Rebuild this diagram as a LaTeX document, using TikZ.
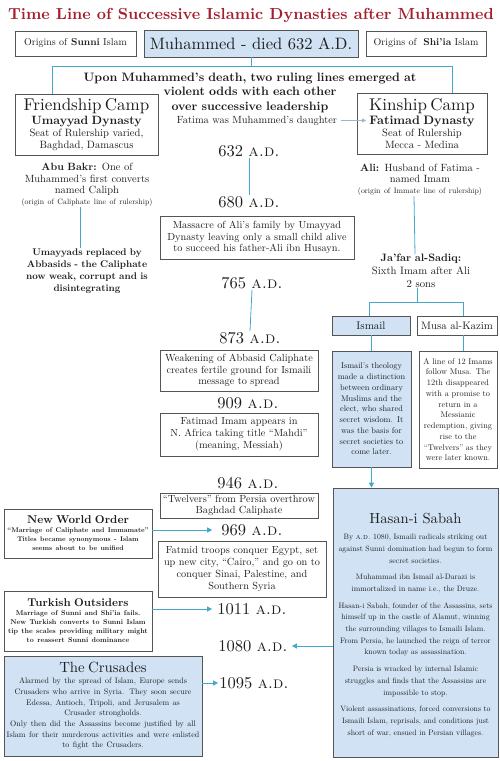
\documentclass[tikz,border=0pt]{standalone}
\usepackage{fontspec}
\setmainfont{lmroman10-regular.otf}[BoldFont=lmroman10-bold.otf, ItalicFont=lmroman10-italic.otf, SmallCapsFont=lmromancaps10-regular.otf]
\usetikzlibrary{arrows.meta}
\definecolor{titlered}{RGB}{163,31,46}
\definecolor{paleblue}{RGB}{208,226,244}
\definecolor{edgegray}{RGB}{85,85,85}
\definecolor{linkblue}{RGB}{66,168,206}
\definecolor{softblue}{RGB}{150,185,205}
\definecolor{inkblack}{RGB}{30,30,30}
\newcommand{\fsz}[2]{\fontsize{#1}{#2}\selectfont}
\newcommand{\anno}{\textsc{a.d.}}

\begin{document}
\begin{tikzpicture}[x=1pt,y=-1pt,
  main_box/.style={draw=edgegray, line width=0.7pt, fill=white, inner sep=0pt, align=center, text=inkblack, font=\fsz{10.3}{11.8}},
  blue_box/.style={main_box, fill=paleblue},
  note_text/.style={align=center, inner sep=0pt, text=inkblack, font=\fsz{10.5}{11.5}},
  date_text/.style={inner sep=1pt, text=inkblack, font=\fsz{16.5}{18}},
  link_line/.style={draw=linkblue, line width=0.8pt},
  link_arrow/.style={link_line, -{Triangle[length=5pt,width=5pt]}}]

    \useasboundingbox (0,0) rectangle (500,761);

    \node[text=titlered, inner sep=0pt, font=\bfseries\fsz{16}{18}] (0) at (251,15) {Time Line of Successive Islamic Dynasties after Muhammed};

    \node[main_box, minimum width=121, minimum height=25, font=\fsz{10}{11}] (1) at (75.5,43.5) {Origins of \textbf{Sunni} Islam};
    \node[blue_box, minimum width=214, minimum height=27, font=\fsz{16.5}{18}] (2) at (251,43.5) {Muhammed - died 632 A.D.};
    \node[main_box, minimum width=120, minimum height=25, font=\fsz{10}{11}] (3) at (426,43.5) {Origins of\ \ \textbf{Shi’ia} Islam};

    \node[note_text, text width=340pt, font=\bfseries\fsz{12.2}{14.5}] (4) at (250,92.5) {Upon Muhammed’s death, two ruling lines emerged at\\violent odds with each other\\over successive leadership};
    \node[note_text, font=\fsz{10.4}{11}] (5) at (257,120.5) {Fatima was Muhammed’s daughter};

    \node[main_box, minimum width=143, minimum height=61, text width=140pt] (6) at (86.5,124.5) {{\fsz{17}{17}Friendship Camp\par}{\bfseries\fsz{12}{14.5}Umayyad Dynasty\par}{\fsz{10.6}{12}Seat of Rulership varied,\\Baghdad, Damascus\par}};
    \node[main_box, minimum width=130, minimum height=61, text width=127pt] (7) at (422,123.5) {{\fsz{17}{17}Kinship Camp\par}{\bfseries\fsz{12.3}{14.5}Fatimad Dynasty\par}{\fsz{10.6}{12}Seat of Rulership\\Mecca - Medina\par}};

    \node[note_text, text width=140pt] (8) at (87,185) {\textbf{Abu Bakr:} One of\\Muhammed’s first converts\\named Caliph\par{\fsz{7.8}{11}(origin of Caliphate line of rulership)\par}};
    \node[note_text, text width=130pt] (9) at (420,180) {\textbf{Ali:} Husband of Fatima -\\named Imam\par{\fsz{7.8}{11}(origin of Immate line of rulership)\par}};
    \node[note_text, text width=140pt, font=\bfseries\fsz{9.7}{12}] (10) at (87,271) {Umayyads replaced by\\Abbasids - the Caliphate\\now weak, corrupt and is\\disintegrating};
    \node[note_text, text width=120pt, font=\fsz{10.7}{13}] (11) at (421,271) {\textbf{Ja’far al-Sadiq:}\\Sixth Imam after Ali\\2 sons};

    \node[date_text] (12) at (249,151) {632 \anno};
    \node[date_text] (13) at (249,202) {680 \anno};
    \node[date_text] (14) at (252,283) {765 \anno};
    \node[date_text] (15) at (250,338) {873 \anno};
    \node[date_text] (16) at (248,403) {909 \anno};
    \node[date_text] (17) at (248,483) {946 \anno};
    \node[date_text] (18) at (252,530) {969 \anno};
    \node[date_text] (19) at (252,609) {1011 \anno};
    \node[date_text] (20) at (253,646) {1080 \anno};
    \node[date_text] (21) at (254,683) {1095 \anno};

    \node[main_box, minimum width=194, minimum height=43, text width=190pt] (22) at (257,237.5) {Massacre of Ali’s family by Umayyad\\Dynasty leaving only a small child alive\\to succeed his father-Ali ibn Husayn.};

    \node[blue_box, minimum width=78, minimum height=19, font=\fsz{11}{12}] (23) at (371,325.5) {Ismail};
    \node[main_box, minimum width=80, minimum height=19, font=\fsz{10.8}{12}] (24) at (457,325.5) {Musa al-Kazim};
    \node[blue_box, minimum width=79, minimum height=116, text width=76pt, font=\fsz{8.3}{10.75}] (25) at (371.5,409) {Ismail’s theology\\made a distinction\\between ordinary\\Muslims and the\\elect, who shared\\secret wisdom. It\\was the basis for\\secret societies to\\come later.};
    \node[main_box, minimum width=78, minimum height=117, text width=75pt, font=\fsz{8.3}{10.75}] (26) at (458,409.5) {A line of 12 Imams\\follow Musa. The\\12th disappeared\\with a promise to\\return in a\\Messianic\\redemption, giving\\rise to the\\“Twelvers” as they\\were later known.};

    \node[main_box, minimum width=158, minimum height=41, text width=155pt] (27) at (239,370.5) {Weakening of Abbasid Caliphate\\creates fertile ground for Ismaili\\message to spread};
    \node[main_box, minimum width=158, minimum height=43, text width=155pt] (28) at (239,434.5) {Fatimad Imam appears in\\N. Africa taking title “Mahdi”\\(meaning, Messiah)};
    \node[main_box, minimum width=158, minimum height=25, text width=155pt] (29) at (239,505.5) {“Twelvers” from Persia overthrow\\Baghdad Caliphate};
    \node[main_box, minimum width=168, minimum height=56, text width=165pt] (30) at (242,569) {Fatmid troops conquer Egypt, set\\up new city, “Cairo,” and go on to\\conquer Sinai, Palestine, and\\Southern Syria};

    \node[blue_box, minimum width=165, minimum height=269] (31) at (415.5,622.5) {};
    \node[note_text, font=\fsz{14.6}{17}] (32) at (415.5,519) {Hasan-i Sabah};
    \node[note_text, anchor=north, text width=160pt, font=\fsz{7.8}{11.7}] (33) at (415.5,534) {\setlength{\parskip}{5pt}By \anno\ 1080, Ismaili radicals striking out\\against Sunni domination had begun to form\\secret societies.\par
      Muhammad ibn Ismail al-Darazi is\\immortalized in name i.e., the Druze.\par
      Hasan-i Sabah, founder of the Assassins, sets\\himself up in the castle of Alamut, winning\\the surrounding villages to Ismaili Islam.\\From Persia, he launched the reign of terror\\known today as assassination.\par
      Persia is wracked by internal Islamic\\struggles and finds that the Assassins are\\impossible to stop.\par
      Violent assassinations, forced conversions to\\Ismaili Islam, reprisals, and conditions just\\short of war, ensued in Persian villages.\par};

    \node[main_box, minimum width=148, minimum height=49, text width=146pt] (34) at (78,533.5) {{\bfseries\fsz{11.4}{13}New World Order\par}{\bfseries\fsz{6.8}{9}“Marriage of Caliphate and Immamate”\\Titles became synonymous - Islam\\seems about to be unified\par}};
    \node[main_box, minimum width=148, minimum height=60, text width=146pt] (35) at (78,621) {{\bfseries\fsz{11.3}{13}Turkish Outsiders\par}{\bfseries\fsz{7}{9}Marriage of Sunni and Shi’ia fails.\\New Turkish converts to Sunni Islam\\tip the scales providing military might\\to reassert Sunni dominance\par}};
    \node[blue_box, minimum width=198, minimum height=100, text width=196pt] (36) at (103,706) {{\fsz{14.8}{16}The Crusades\par}{\fsz{8}{10.7}Alarmed by the spread of Islam, Europe sends\\Crusaders who arrive in Syria. They soon secure\\Edessa, Antioch, Tripoli, and Jerusalem as\\Crusader strongholds.\\Only then did the Assassins become justified by all\\Islam for their murderous activities and were enlisted\\to fight the Crusaders.\par}};

    \coordinate (37) at (52,66);
    \coordinate (38) at (452,66);
    \coordinate (39) at (369,302);
    \coordinate (40) at (463,302);
    \coordinate (41) at (366,120.5);

    \draw[link_line] (2.south) -- (2.south |- 37);
    \draw[link_line] (6.north -| 37) |- (38) -- (7.north -| 38);
    \draw[draw=softblue, line width=0.6pt, -{Triangle[length=4pt,width=4pt]}] (5.east) ++(4,0) -- (41);

    \draw[link_line] ([xshift=-7pt]8.south) -- ([xshift=-7pt]10.north);
    \draw[link_line] ([xshift=-6pt]9.south) -- ([xshift=-6pt]11.north);
    \draw[link_line] ([xshift=-4pt]11.south) -- ([xshift=-4pt]11.south |- 39);
    \draw[link_line] (23.north -| 39) |- (40) -- (24.north -| 40);
    \draw[link_line] (23.south) -- (23.south |- 25.north);
    \draw[link_line] (24.south -| 40) -- (26.north -| 40);
    \draw[link_arrow] (25.south) -- (25.south |- 31.north);

    \draw[link_line] (12.south) -- (13.north);
    \draw[link_line] (14.south) -- (15.north);

    \draw[link_arrow, shorten >=8pt] (34.east |- 18) -- (18.west);
    \draw[link_arrow, shorten >=4pt] (35.east |- 19) -- (19.west);
    \draw[link_arrow, shorten >=3pt] (31.west |- 20) -- (20.east);
    \draw[link_arrow] (36.east |- 21) -- (21.west);

\end{tikzpicture}
\end{document}
